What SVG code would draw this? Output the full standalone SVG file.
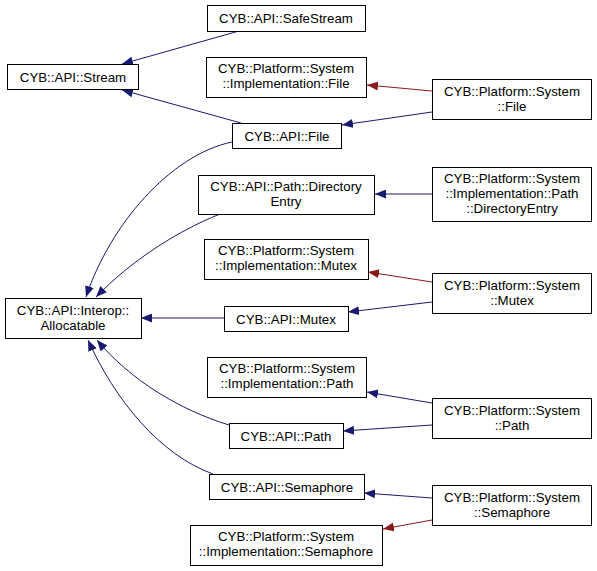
<svg xmlns="http://www.w3.org/2000/svg" width="597" height="571" viewBox="0 0 597 571">
<style>
.n rect{fill:#fff;stroke:#000;stroke-width:1}
.n text{font-family:"Liberation Sans",Arial,sans-serif;font-size:13.3px;text-anchor:middle;fill:#000}
.e path{fill:none;stroke-width:1}
.b{stroke:#191970;marker-end:url(#ab)}
.r{stroke:#8b1a1a;marker-end:url(#ar)}
</style>
<defs>
<marker id="ab" markerUnits="userSpaceOnUse" markerWidth="12" markerHeight="9" refX="11" refY="4.5" orient="auto"><path d="M0,0 L11,4.5 L0,9 z" fill="#191970"/></marker>
<marker id="ar" markerUnits="userSpaceOnUse" markerWidth="12" markerHeight="9" refX="11" refY="4.5" orient="auto"><path d="M0,0 L11,4.5 L0,9 z" fill="#8b1a1a"/></marker>
</defs>
<rect width="597" height="571" fill="#fff"/>
<g class="e" id="edges">
<path class="b" d="M239,31 L122,64"/>
<path class="b" d="M241,123 L122,90"/>
<path class="r" d="M432,91 L367,85"/>
<path class="b" d="M432,112 L342,125"/>
<path class="b" d="M232,142 C170,155 110,225 86,297"/>
<path class="b" d="M220,214 C175,232 130,262 96,297"/>
<path class="b" d="M432,194 L375,194"/>
<path class="r" d="M432,282 L368,272"/>
<path class="b" d="M432,302 L348,312"/>
<path class="b" d="M224,318 L141,318"/>
<path class="b" d="M229,425 C180,410 130,380 97,340"/>
<path class="b" d="M213,474 C160,455 115,400 88,340"/>
<path class="b" d="M432,403 L367,392"/>
<path class="b" d="M432,425 L343,431"/>
<path class="b" d="M432,498 L364,493"/>
<path class="r" d="M432,520 L383,529"/>
</g>
<g class="n" id="safestream"><rect x="207.5" y="5.5" width="158" height="26"/><text x="286" y="23">CYB::API::SafeStream</text></g>
<g class="n" id="stream"><rect x="7.5" y="64.5" width="131" height="25"/><text x="73" y="82">CYB::API::Stream</text></g>
<g class="n" id="implfile"><rect x="206.5" y="57.5" width="160" height="40"/><text x="286" y="73">CYB::Platform::System</text><text x="286" y="88">::Implementation::File</text></g>
<g class="n" id="sysfile"><rect x="432.5" y="79.5" width="159" height="40"/><text x="512" y="96">CYB::Platform::System</text><text x="512" y="111">::File</text></g>
<g class="n" id="apifile"><rect x="232.5" y="123.5" width="109" height="25"/><text x="287" y="141">CYB::API::File</text></g>
<g class="n" id="direntry"><rect x="198.5" y="175.5" width="176" height="39"/><text x="286" y="191">CYB::API::Path::Directory</text><text x="286" y="206">Entry</text></g>
<g class="n" id="impldirentry"><rect x="432.5" y="167.5" width="159" height="54"/><text x="512" y="183">CYB::Platform::System</text><text x="512" y="198">::Implementation::Path</text><text x="512" y="213">::DirectoryEntry</text></g>
<g class="n" id="implmutex"><rect x="204.5" y="239.5" width="164" height="40"/><text x="286" y="255">CYB::Platform::System</text><text x="286" y="270">::Implementation::Mutex</text></g>
<g class="n" id="allocatable"><rect x="5.5" y="298.5" width="136" height="40"/><text x="73" y="315">CYB::API::Interop::</text><text x="73" y="330">Allocatable</text></g>
<g class="n" id="apimutex"><rect x="224.5" y="306.5" width="124" height="25"/><text x="286" y="324">CYB::API::Mutex</text></g>
<g class="n" id="sysmutex"><rect x="432.5" y="273.5" width="159" height="40"/><text x="512" y="290">CYB::Platform::System</text><text x="512" y="305">::Mutex</text></g>
<g class="n" id="implpath"><rect x="207.5" y="357.5" width="159" height="40"/><text x="287" y="373">CYB::Platform::System</text><text x="287" y="388">::Implementation::Path</text></g>
<g class="n" id="apipath"><rect x="229.5" y="423.5" width="114" height="25"/><text x="286" y="441">CYB::API::Path</text></g>
<g class="n" id="syspath"><rect x="432.5" y="398.5" width="159" height="40"/><text x="512" y="415">CYB::Platform::System</text><text x="512" y="430">::Path</text></g>
<g class="n" id="apisem"><rect x="209.5" y="474.5" width="155" height="25"/><text x="287" y="492">CYB::API::Semaphore</text></g>
<g class="n" id="syssem"><rect x="432.5" y="485.5" width="159" height="40"/><text x="512" y="502">CYB::Platform::System</text><text x="512" y="517">::Semaphore</text></g>
<g class="n" id="implsem"><rect x="190.5" y="525.5" width="192" height="40"/><text x="286" y="541">CYB::Platform::System</text><text x="286" y="556">::Implementation::Semaphore</text></g>
</svg>
